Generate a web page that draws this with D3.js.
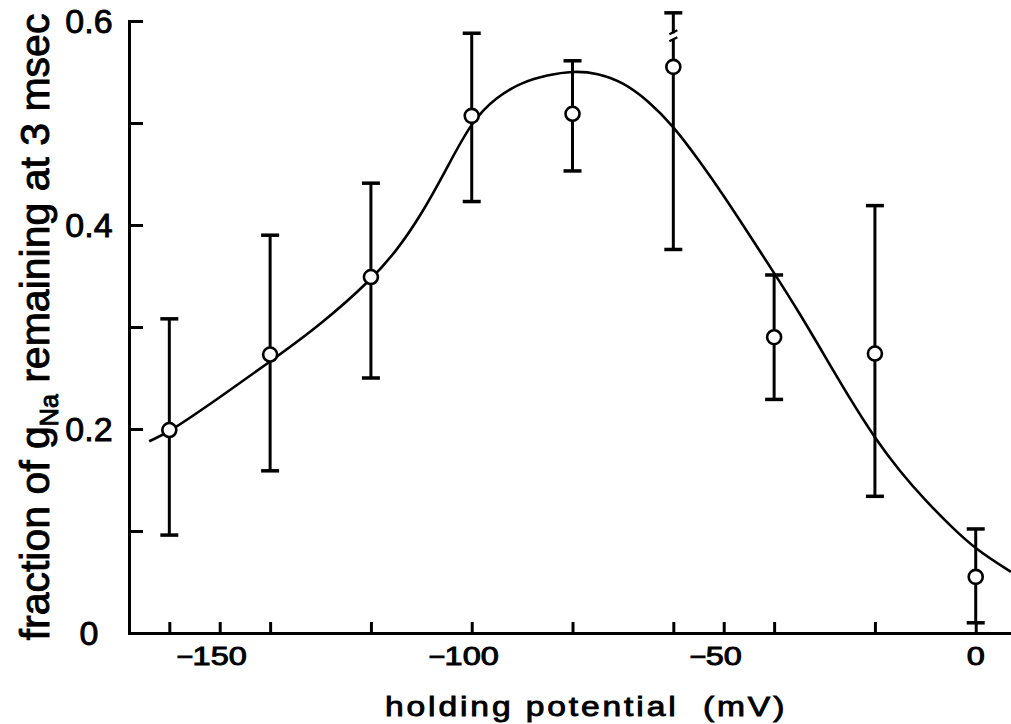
<!DOCTYPE html>
<html>
<head>
<meta charset="utf-8">
<script src="https://cdn.jsdelivr.net/npm/d3@7"></script>
<style>
body { margin: 0; background: #fff; }
svg text { font-family: "Liberation Sans", Arial, sans-serif; fill: #000; stroke: #000; stroke-width: 0.9px; }
</style>
</head>
<body>
<svg id="chart" width="1011" height="724"></svg>
<script>
// measured points: holding potential (mV) and fraction of gNa left at 3 msec
var potentials = [-160, -140, -120, -100, -80, -60, -40, -20, 0];
var fraction   = [0.199, 0.273, 0.349, 0.507, 0.509, 0.555, 0.290, 0.274, 0.055];
var errTop     = [0.308, 0.390, 0.441, 0.588, 0.561, 0.608, 0.351, 0.419, 0.102];
var errBottom  = [0.096, 0.159, 0.250, 0.423, 0.453, 0.376, 0.229, 0.134, 0.010];

// the fitted curve
var curveV = [-164, -160, -150, -140, -130, -120, -115, -110, -105, -100, -95, -90, -85, -80,
              -75, -70, -65, -60, -55, -50, -45, -40, -35, -30, -25, -20, -15, -10, -5, 0, 7];
var curveG = [0.188, 0.197, 0.231, 0.266, 0.302, 0.346, 0.374, 0.410, 0.455, 0.502, 0.526, 0.540,
              0.547, 0.551, 0.549, 0.540, 0.522, 0.497, 0.464, 0.429, 0.391, 0.353, 0.314, 0.272,
              0.230, 0.191, 0.158, 0.130, 0.105, 0.082, 0.060];

// break mark drawn on the -60 error bar
var breakV = [-60];
var breakG = [0.585];

var xTicks  = [-160, -150, -140, -120, -100, -80, -60, -50, -40, -20, 0];
var xLabels = [-150, -100, -50, 0];
var yTicks  = [0, 0.1, 0.2, 0.3, 0.4, 0.5, 0.6];
var yLabels = [0, 0.2, 0.4, 0.6];

function main()
{
    var svg = d3.select("#chart");

    var x = d3.scaleLinear().domain([-168, 7]).range([129, 1011]);
    var y = d3.scaleLinear().domain([0, 0.6]).range([633, 21]);

    // axes, ticks pointing inward
    var gx = svg.append("g")
        .attr("transform", "translate(0," + y(0) + ")")
        .call(d3.axisBottom(x).tickValues(xTicks).tickSizeInner(-11).tickSizeOuter(0).tickFormat(""));
    var gy = svg.append("g")
        .attr("transform", "translate(" + x.range()[0] + ",0)")
        .call(d3.axisLeft(y).tickValues(yTicks).tickSizeInner(-14).tickSizeOuter(0).tickFormat(""));
    svg.selectAll(".domain").attr("stroke", "#000").attr("stroke-width", 3).attr("stroke-linecap", "square");
    svg.selectAll(".tick line").attr("stroke", "#000").attr("stroke-width", 3);

    // x tick labels: digits centred on the tick, minus sign hanging to the left
    var xl = svg.append("g").selectAll("g").data(xLabels).join("g")
        .attr("transform", function(d) { return "translate(" + x(d) + "," + (y(0) + 32) + ")"; });
    xl.append("text")
        .attr("text-anchor", "middle")
        .attr("font-size", 25)
        .attr("transform", "scale(1.3,1)")
        .text(function(d) { return Math.abs(d); });
    xl.filter(function(d) { return d < 0; }).each(function() {
        var g = d3.select(this);
        var w = g.select("text").node().getComputedTextLength() * 1.3;
        g.append("text")
            .attr("text-anchor", "end")
            .attr("x", (-w / 2 + 1) / 1.15)
            .attr("font-size", 25)
            .attr("transform", "scale(1.15,1)")
            .text("\u2212");
    });

    // y tick labels
    svg.append("g").selectAll("text").data(yLabels).join("text")
        .attr("x", x.range()[0] - 40)
        .attr("y", function(d) { return y(d); })
        .attr("dy", "0.36em")
        .attr("text-anchor", "middle")
        .attr("font-size", 34)
        .text(function(d) { return d === 0 ? "0" : d.toFixed(1); });

    // axis titles
    svg.append("text")
        .attr("transform", "translate(385,716) scale(1.2,1)")
        .attr("font-size", 28)
        .attr("letter-spacing", 2.4)
        .attr("xml:space", "preserve")
        .text("holding potential  (mV)");

    var yt = svg.append("text")
        .attr("transform", "translate(49,327) rotate(-90)")
        .attr("text-anchor", "middle")
        .attr("font-size", 41);
    yt.append("tspan").text("fraction of g");
    yt.append("tspan").attr("font-size", 25).attr("dy", 9).text("Na");
    yt.append("tspan").attr("dy", -9).text(" remaining at 3 msec");

    // fitted curve
    var line = d3.line()
        .x(function(d) { return x(d[0]); })
        .y(function(d) { return y(d[1]); })
        .curve(d3.curveBasis);
    svg.append("path")
        .attr("d", line(d3.zip(curveV, curveG)))
        .attr("fill", "none")
        .attr("stroke", "#000")
        .attr("stroke-width", 2.6);

    // error bars
    var pts = potentials.map(function(v, i) {
        return { v: v, g: fraction[i], hi: errTop[i], lo: errBottom[i] };
    });
    var eb = svg.append("g").selectAll("g").data(pts).join("g")
        .attr("stroke", "#000");
    eb.append("line")
        .attr("x1", function(d) { return x(d.v); })
        .attr("x2", function(d) { return x(d.v); })
        .attr("y1", function(d) { return y(d.hi); })
        .attr("y2", function(d) { return y(d.lo); })
        .attr("stroke-width", 3);
    eb.append("line")
        .attr("x1", function(d) { return x(d.v) - 9; })
        .attr("x2", function(d) { return x(d.v) + 9; })
        .attr("y1", function(d) { return y(d.hi); })
        .attr("y2", function(d) { return y(d.hi); })
        .attr("stroke-width", 3.5);
    eb.append("line")
        .attr("x1", function(d) { return x(d.v) - 9; })
        .attr("x2", function(d) { return x(d.v) + 9; })
        .attr("y1", function(d) { return y(d.lo); })
        .attr("y2", function(d) { return y(d.lo); })
        .attr("stroke-width", 3.5);

    // break mark on the tall bar
    var bk = svg.append("g").selectAll("g").data(d3.zip(breakV, breakG)).join("g")
        .attr("transform", function(d) { return "translate(" + x(d[0]) + "," + y(d[1]) + ")"; });
    bk.append("rect").attr("x", -4).attr("y", -3).attr("width", 8).attr("height", 6).attr("fill", "#fff");
    bk.append("path").attr("d", "M-4,-2L4,-6M-4,5L4,1").attr("stroke", "#000").attr("stroke-width", 2.2);

    // open circles
    svg.append("g").selectAll("circle").data(pts).join("circle")
        .attr("cx", function(d) { return x(d.v); })
        .attr("cy", function(d) { return y(d.g); })
        .attr("r", 7)
        .attr("fill", "#fff")
        .attr("stroke", "#000")
        .attr("stroke-width", 2.6);
}

main();
</script>
</body>
</html>
